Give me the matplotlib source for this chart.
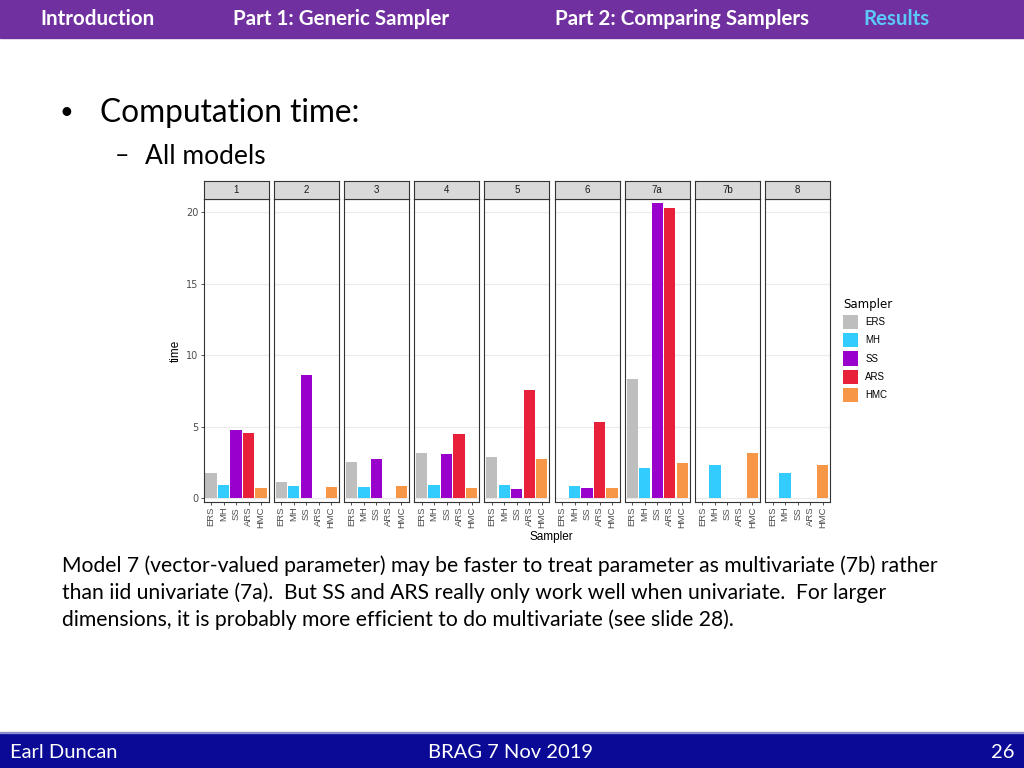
import numpy as np
import matplotlib
matplotlib.use('Agg')
import matplotlib.pyplot as plt
from matplotlib.patches import Rectangle, Patch

# data
models = ['1', '2', '3', '4', '5', '6', '7a', '7b', '8']
samplers = ['ERS', 'MH', 'SS', 'ARS', 'HMC']
nan = np.nan
ers = [1.79, 1.16, 2.53, 3.14, 2.88, nan, 8.33, nan, nan]
mh = [0.93, 0.86, 0.77, 0.93, 0.93, 0.86, 2.14, 2.33, 1.74]
ss = [4.81, 8.60, 2.72, 3.09, 0.65, 0.70, 20.65, nan, nan]
ars = [4.58, nan, nan, 4.49, 7.56, 5.30, 20.26, nan, nan]
hmc = [0.70, 0.77, 0.88, 0.70, 2.77, 0.70, 2.44, 3.14, 2.33]
yticks = [0, 5, 10, 15, 20]
colors = ['#BEBEBE', '#33CCFF', '#9900CC', '#E8203A', '#F79646']

W, H = 1024, 768
fig = plt.figure(figsize=(W / 100, H / 100), dpi=100)
fig.patch.set_facecolor('white')
font = ['Lato', 'DejaVu Sans']
pfont = ['Liberation Sans', 'DejaVu Sans']


def px(x, y, w, h):
    # pixel box (top-left origin) -> figure fraction rect
    return [x / W, 1 - (y + h) / H, w / W, h / H]


# header and footer bars
fig.patches.append(Rectangle((0, 1 - 38 / H), 1, 38 / H, transform=fig.transFigure,
                             color='#7030A0', zorder=0))
fig.patches.append(Rectangle((0, 0), 1, 35 / H, transform=fig.transFigure,
                             color='#0A0A96', zorder=0))
fig.patches.append(Rectangle((0, 35 / H), 1, 1.5 / H, transform=fig.transFigure,
                             color='#8C8CD0', zorder=0))

hdr = [('Introduction', 98, 'white'), ('Part 1: Generic Sampler', 341, 'white'),
       ('Part 2: Comparing Samplers', 682, 'white'), ('Results', 896, '#5BC8F5')]
for txt, x, c in hdr:
    fig.text(x / W, 1 - 19 / H, txt, ha='center', va='center', color=c,
             fontsize=14.8, fontweight='bold', family=font)

fig.text(10 / W, 16 / H, 'Earl Duncan', ha='left', va='center', color='white',
         fontsize=14.5, family=font)
fig.text(511 / W, 16 / H, 'BRAG 7 Nov 2019', ha='center', va='center', color='white',
         fontsize=14.5, family=font)
fig.text(1014 / W, 16 / H, '26', ha='right', va='center', color='white',
         fontsize=14.5, family=font)

# slide text
fig.text(60 / W, 1 - 113 / H, '•', ha='left', va='center', fontsize=17, family=font)
fig.text(100 / W, 1 - 113 / H, 'Computation time:', ha='left', va='center',
         fontsize=22.8, family=font)
fig.text(115 / W, 1 - 156 / H, '–', ha='left', va='center', fontsize=18, family=font)
fig.text(145 / W, 1 - 156 / H, 'All models', ha='left', va='center',
         fontsize=19, family=font)

para = ['Model 7 (vector-valued parameter) may be faster to treat parameter as multivariate (7b) rather',
        'than iid univariate (7a).  But SS and ARS really only work well when univariate.  For larger',
        'dimensions, it is probably more efficient to do multivariate (see slide 28).']
for i, line in enumerate(para):
    fig.text(62 / W, 1 - (566 + 27 * i) / H, line, ha='left', va='center',
             fontsize=15.2, family=font)

# faceted bar chart
series = [ers, mh, ss, ars, hmc]
xs = np.arange(len(samplers))
for i, m in enumerate(models):
    left = 203.5 + i * 70.2
    ax = fig.add_axes(px(left, 199, 65, 303))
    vals = [s[i] for s in series]
    ax.bar(xs, vals, width=0.9, color=colors, zorder=2)
    ax.set_xlim(-0.6, 4.6)
    ax.set_ylim(-0.25, 20.9)
    ax.set_yticks(yticks)
    for y in yticks:
        ax.axhline(y, color='#EBEBEB', lw=0.8, zorder=1)
    ax.set_xticks(xs)
    ax.set_xticklabels(samplers, rotation=90, fontsize=6.8, color='#4D4D4D',
                       family=pfont)
    ax.tick_params(axis='x', length=2, width=0.6, color='#333333', pad=1.5)
    if i == 0:
        ax.tick_params(axis='y', length=2, width=0.6, color='#333333', pad=1.5,
                       labelsize=7, labelcolor='#4D4D4D')
        ax.set_ylabel('time', fontsize=8.5, labelpad=3, family=pfont)
    else:
        ax.tick_params(axis='y', left=False, labelleft=False)
    for sp in ax.spines.values():
        sp.set_color('#333333')
        sp.set_linewidth(0.8)
    # facet strip
    st = fig.add_axes(px(left, 181, 65, 18))
    st.set_facecolor('#D9D9D9')
    st.set_xticks([])
    st.set_yticks([])
    for sp in st.spines.values():
        sp.set_color('#333333')
        sp.set_linewidth(0.8)
    st.text(0.5, 0.5, m, ha='center', va='center', fontsize=7, color='#1A1A1A',
            transform=st.transAxes, family=pfont)

fig.text(551 / W, 1 - 537 / H, 'Sampler', ha='center', va='center', fontsize=8.5,
         family=pfont)

handles = [Patch(facecolor=c, edgecolor='none') for c in colors]
leg = fig.legend(handles, samplers, title='Sampler', loc='upper left',
                 bbox_to_anchor=(836 / W, 1 - 291 / H), frameon=False,
                 title_fontsize=8.5, handlelength=1.6, handleheight=1.9,
                 labelspacing=0.4, handletextpad=0.7, borderpad=0.2,
                 prop={'family': pfont, 'size': 7})
leg._legend_box.align = 'left'

fig.savefig('out.png', dpi=100)
